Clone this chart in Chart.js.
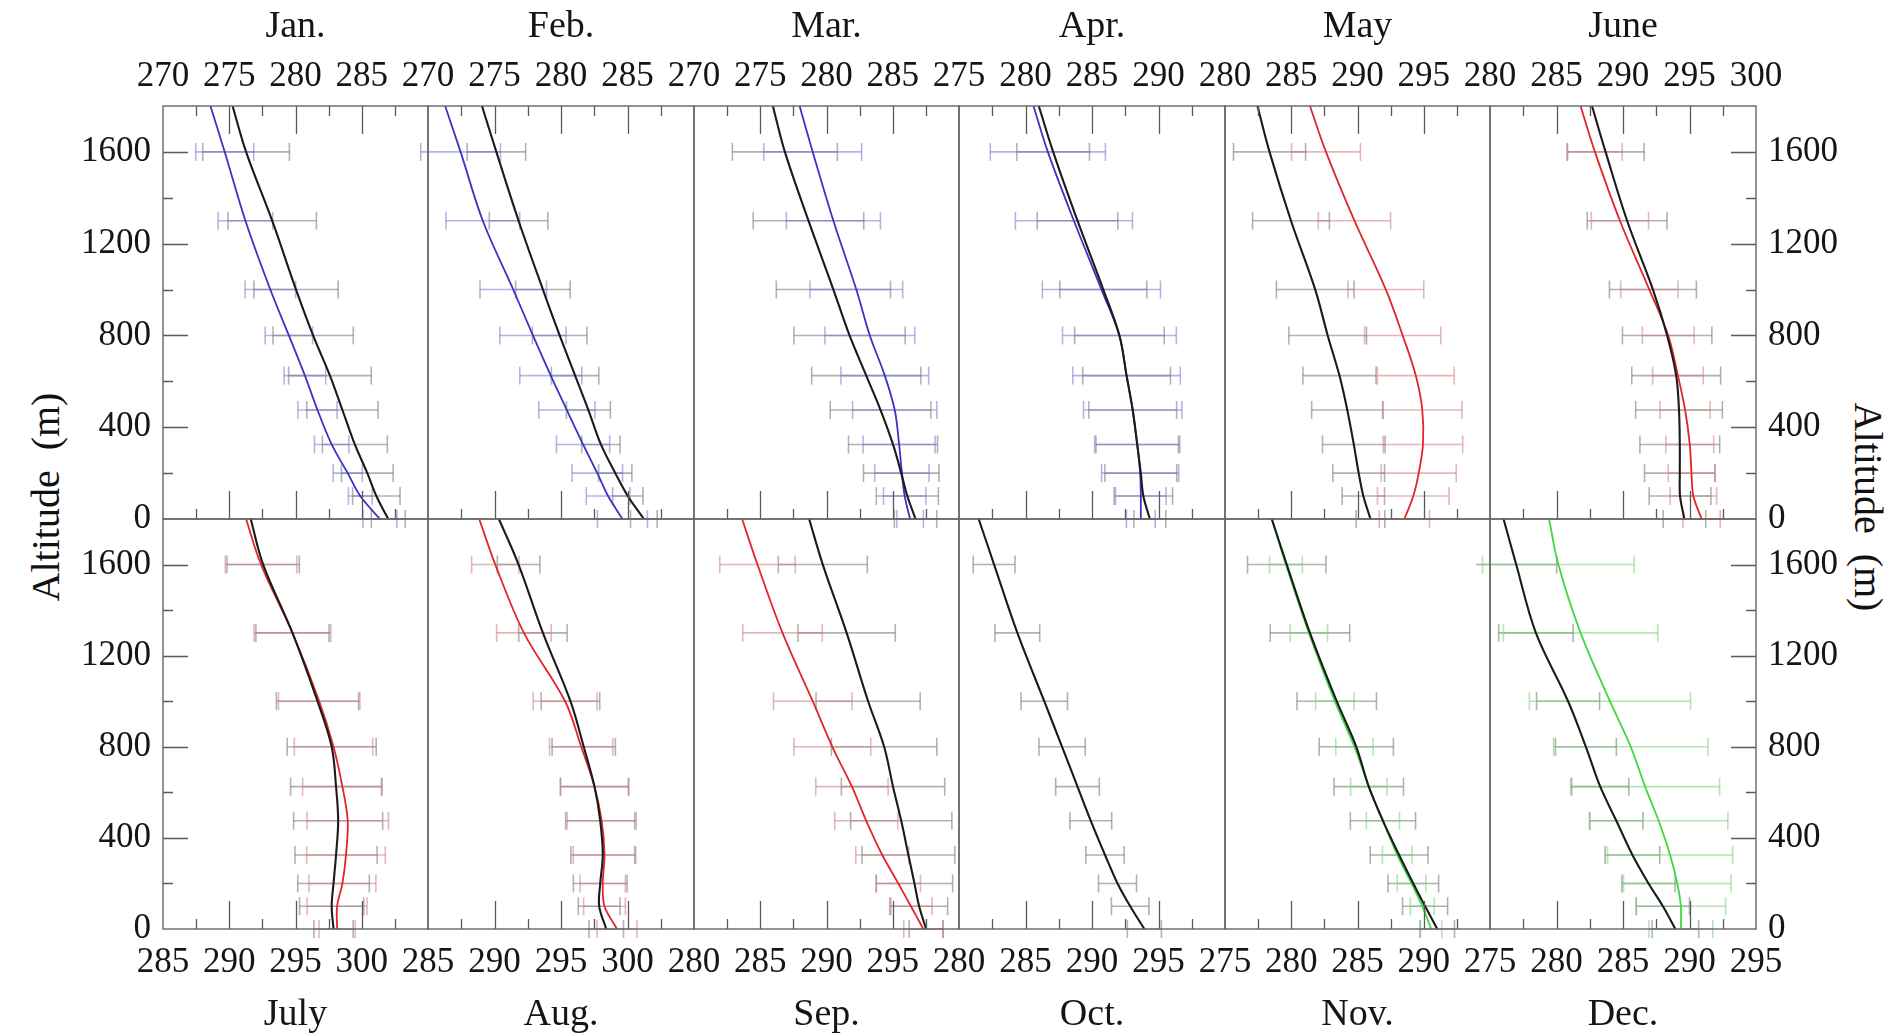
<!DOCTYPE html>
<html>
<head>
<meta charset="utf-8">
<script src="https://cdn.jsdelivr.net/npm/chart.js@4.4.0/dist/chart.umd.min.js"></script>
<style>
  body { margin: 0; background: #fff; width: 1892px; height: 1034px; overflow: hidden; position: relative; }
  canvas { position: absolute; }
  .ylab { position: absolute; font-family: 'Liberation Serif', serif; font-size: 40px; color: #111; white-space: pre; }
</style>
</head>
<body>
<div class="ylab" id="ylabL">Altitude  (m)</div>
<div class="ylab" id="ylabR">Altitude  (m)</div>
<script>
// altitudes (m) of the profile points, error bars sit on the first ten
const altLevels = [0, 100, 200, 325, 475, 625, 800, 1000, 1300, 1600, 1800];
const errLevels = [0, 100, 200, 325, 475, 625, 800, 1000, 1300, 1600];

const months = ['Jan.', 'Feb.', 'Mar.', 'Apr.', 'May', 'June', 'July', 'Aug.', 'Sep.', 'Oct.', 'Nov.', 'Dec.'];
const xMins = [270, 270, 270, 275, 280, 280, 285, 285, 280, 280, 275, 275];
const xMaxs = [290, 290, 290, 295, 300, 300, 305, 305, 300, 300, 295, 295];

// temperature (K), black profile
const janObs = [287.0, 286.1, 285.42, 284.48, 283.54, 282.6, 281.33, 280.04, 278.24, 276.27, 275.25];
const febObs = [286.23, 285.02, 284.08, 283.0, 282.06, 281.06, 279.9, 278.64, 276.81, 275.14, 274.06];
const marObs = [286.72, 286.1, 285.64, 285.02, 284.08, 283.0, 281.74, 280.52, 278.64, 276.86, 275.95];
const aprObs = [289.35, 288.86, 288.67, 288.4, 288.06, 287.6, 287.06, 285.85, 283.91, 282.08, 281.0];
const mayObs = [290.98, 290.44, 290.09, 289.72, 289.23, 288.64, 287.75, 286.81, 284.98, 283.36, 282.45];
const junObs = [294.62, 294.29, 294.27, 294.27, 294.21, 294.0, 293.32, 292.25, 290.31, 288.69, 287.67];
const julObs = [297.87, 297.73, 297.87, 298.06, 298.22, 298.06, 297.73, 296.66, 294.77, 292.56, 291.62];
const augObs = [298.4, 297.87, 297.95, 298.14, 297.95, 297.52, 296.71, 295.71, 293.64, 291.81, 290.33];
const sepObs = [297.52, 296.99, 296.64, 296.18, 295.64, 295.02, 294.35, 293.14, 291.52, 289.72, 288.69];
const octObs = [293.94, 292.87, 291.92, 290.98, 289.91, 288.91, 287.75, 286.41, 284.39, 282.64, 281.48];
const novObs = [291.02, 290.1, 289.21, 288.14, 286.92, 285.85, 284.91, 283.43, 281.41, 279.66, 278.53];
const decObs = [288.94, 288.0, 286.92, 285.71, 284.5, 283.29, 282.21, 280.87, 278.45, 276.97, 276.02];

// temperature (K), coloured profile (none in Oct.)
const janMod = [286.37, 284.89, 283.94, 282.73, 281.66, 280.71, 279.5, 278.1, 276.22, 274.66, 273.58];
const febMod = [284.62, 283.54, 282.73, 281.66, 280.44, 279.23, 277.89, 276.41, 274.12, 272.45, 271.29];
const marMod = [286.31, 285.9, 285.69, 285.48, 285.15, 284.4, 283.27, 282.25, 280.52, 278.96, 277.97];
const aprMod = [288.67, 288.67, 288.62, 288.4, 288.06, 287.6, 287.06, 285.71, 283.64, 281.68, 280.6];
const mayMod = [293.54, 294.21, 294.62, 294.94, 294.89, 294.4, 293.41, 292.14, 289.77, 287.62, 286.41];
const junMod = [295.91, 295.29, 295.15, 295.02, 294.67, 294.13, 293.4, 291.98, 289.77, 287.89, 286.81];
const julMod = [298.14, 298.14, 298.54, 298.81, 298.94, 298.54, 297.87, 296.79, 294.77, 292.4, 291.27];
const augMod = [299.21, 298.27, 298.14, 298.27, 298.06, 297.52, 296.52, 295.31, 292.21, 290.06, 288.85];
const sepMod = [297.31, 296.37, 295.42, 294.21, 293.0, 291.92, 290.44, 288.96, 286.68, 284.79, 283.63];
const novMod = [290.56, 289.89, 289.08, 288.0, 286.92, 285.85, 284.77, 283.29, 281.33, 279.6, 278.53];
const decMod = [289.35, 289.35, 289.08, 288.54, 287.68, 286.66, 285.58, 284.02, 281.81, 280.14, 279.44];

// standard deviations (K) at errLevels
const janObsSd = [1.28, 1.79, 1.95, 2.45, 2.69, 3.12, 3.03, 3.18, 3.34, 3.27];
const febObsSd = [1.0, 1.14, 1.25, 1.44, 1.65, 1.78, 2.05, 2.05, 2.2, 2.2];
const marObsSd = [1.6, 2.34, 2.85, 3.36, 3.8, 4.12, 4.2, 4.31, 4.17, 3.96];
const aprObsSd = [1.2, 2.2, 2.7, 3.1, 3.3, 3.3, 3.37, 3.27, 3.03, 2.73];
const mayObsSd = [1.08, 1.6, 1.95, 2.36, 2.69, 2.76, 2.93, 2.93, 2.9, 2.72];
const junObsSd = [1.6, 2.32, 2.65, 3.0, 3.26, 3.34, 3.36, 3.27, 3.0, 2.9];
const julObsSd = [1.48, 2.42, 2.7, 3.1, 3.36, 3.43, 3.36, 3.1, 2.76, 2.73];
const augObsSd = [1.3, 1.57, 2.02, 2.4, 2.6, 2.56, 2.38, 2.2, 1.82, 1.6];
const sepObsSd = [1.28, 2.15, 2.88, 3.5, 3.82, 3.9, 3.98, 3.93, 3.67, 3.36];
const octObsSd = [1.28, 1.41, 1.43, 1.44, 1.57, 1.64, 1.74, 1.75, 1.68, 1.57];
const novObsSd = [1.3, 1.7, 1.91, 2.18, 2.46, 2.62, 2.8, 3.0, 3.0, 2.96];
const decObsSd = [1.75, 2.0, 2.0, 2.05, 2.0, 2.15, 2.29, 2.37, 2.8, 3.04];

const janModSd = [1.28, 0.9, 1.1, 1.3, 1.48, 1.57, 1.79, 1.91, 2.06, 2.19];
const febModSd = [1.88, 1.64, 1.9, 2.0, 2.11, 2.33, 2.49, 2.5, 2.77, 3.0];
const marModSd = [1.0, 1.6, 2.05, 2.72, 3.18, 3.31, 3.39, 3.5, 3.55, 3.69];
const aprModSd = [1.08, 1.9, 2.9, 3.2, 3.7, 4.04, 4.28, 4.44, 4.4, 4.33];
const mayModSd = [1.9, 2.7, 2.83, 3.0, 2.99, 2.9, 2.88, 2.86, 2.73, 2.6];
const junModSd = [1.4, 1.75, 1.75, 1.8, 1.88, 1.9, 1.95, 2.15, 2.15, 2.05];
const julModSd = [1.37, 2.26, 2.53, 2.97, 3.07, 3.0, 2.96, 3.07, 2.9, 2.7];
const augModSd = [1.5, 1.57, 1.7, 2.35, 2.6, 2.56, 2.38, 2.4, 2.05, 1.78];
const sepModSd = [1.48, 1.6, 1.67, 2.0, 2.38, 2.73, 2.9, 2.96, 3.0, 2.85];
const novModSd = [0.8, 0.9, 1.08, 1.12, 1.25, 1.37, 1.41, 1.45, 1.41, 1.24];
const decModSd = [2.4, 3.36, 4.04, 4.7, 5.2, 5.6, 5.8, 6.06, 5.8, 5.7];

const obsList = [janObs, febObs, marObs, aprObs, mayObs, junObs, julObs, augObs, sepObs, octObs, novObs, decObs];
const modList = [janMod, febMod, marMod, aprMod, mayMod, junMod, julMod, augMod, sepMod, null, novMod, decMod];
const obsSdList = [janObsSd, febObsSd, marObsSd, aprObsSd, mayObsSd, junObsSd, julObsSd, augObsSd, sepObsSd, octObsSd, novObsSd, decObsSd];
const modSdList = [janModSd, febModSd, marModSd, aprModSd, mayModSd, junModSd, julModSd, augModSd, sepModSd, null, novModSd, decModSd];

// ---- layout / style ----
const FONT = "'Liberation Serif', 'DejaVu Serif', serif";
const colLeft = [163, 428, 694, 959, 1225, 1490, 1756];
const rowTop = [106, 519];
const rowBottom = [519, 929];
const PAGE_W = 1892, PAGE_H = 1034;
const EXTRA = 60; // spare canvas room beyond the inner edge of each row

const modStyle = {
  blue: { line: '#3b33c6', bar: 'rgba(120,120,205,0.55)' },
  red: { line: '#e1262b', bar: 'rgba(205,125,125,0.55)' },
  green: { line: '#3fd83f', bar: 'rgba(120,205,120,0.55)' }
};
const modColor = ['blue', 'blue', 'blue', 'blue', 'red', 'red', 'red', 'red', 'red', null, 'green', 'green'];

function profile(vals) {
  return altLevels.map((a, i) => ({ x: vals[i], y: a }));
}

function errBars(vals, sd) {
  const out = [];
  errLevels.forEach((a, i) => {
    out.push({ x: vals[i] - sd[i], y: a }, { x: vals[i] + sd[i], y: a }, { x: null, y: null });
  });
  return out;
}

function barSet(data, color) {
  return {
    data: data, borderColor: color, borderWidth: 1.6, showLine: true, spanGaps: false,
    pointStyle: 'line', rotation: 90, pointRadius: 9, pointBorderWidth: 1.6,
    pointBorderColor: color, pointBackgroundColor: color, clip: false, tension: 0
  };
}

// inward ticks + panel frame
const frameTicks = {
  id: 'frameTicks',
  afterDraw(chart, args, opts) {
    const { ctx, chartArea: a } = chart;
    const x = chart.scales.x, y = chart.scales.y;
    ctx.save();
    ctx.strokeStyle = '#5a5a5a';
    ctx.lineWidth = 1.3;
    ctx.beginPath();
    x.ticks.forEach(t => {
      if (t.value <= x.min || t.value >= x.max) return;
      const px = Math.round(x.getPixelForValue(t.value)) + 0.5;
      const len = t.value % 5 === 0 ? 28 : 10;
      if (opts.topTicks) { ctx.moveTo(px, a.top); ctx.lineTo(px, a.top + len); }
      ctx.moveTo(px, a.bottom); ctx.lineTo(px, a.bottom - len);
    });
    if (opts.side) {
      y.ticks.forEach(t => {
        if (t.value <= y.min || t.value >= y.max) return;
        const py = Math.round(y.getPixelForValue(t.value)) + 0.5;
        const len = t.value % 400 === 0 ? 25 : 10;
        if (opts.side === 'left') { ctx.moveTo(a.left, py); ctx.lineTo(a.left + len, py); }
        else { ctx.moveTo(a.right, py); ctx.lineTo(a.right - len, py); }
      });
    }
    ctx.stroke();
    ctx.strokeStyle = '#666';
    ctx.lineWidth = 1.4;
    ctx.strokeRect(a.left, a.top, a.right - a.left, a.bottom - a.top);
    ctx.restore();
  }
};

for (let m = 0; m < 12; m++) {
  const r = m < 6 ? 0 : 1;
  const c = m % 6;
  const pl = colLeft[c], pr = colLeft[c + 1];
  const pt = rowTop[r], pb = rowBottom[r];

  const cx = Math.max(0, pl - 170);
  const cw = Math.min(PAGE_W, pr + 140) - cx;
  const cy = r === 0 ? 0 : pt - EXTRA;
  const ch = r === 0 ? pb + EXTRA : PAGE_H - cy;

  const canvas = document.createElement('canvas');
  canvas.width = cw; canvas.height = ch;
  canvas.style.left = cx + 'px'; canvas.style.top = cy + 'px';
  canvas.style.width = cw + 'px'; canvas.style.height = ch + 'px';
  document.body.appendChild(canvas);

  const side = c === 0 ? 'left' : (c === 5 ? 'right' : null);
  const padL = pl - cx, padR = cx + cw - pr;
  const xAxisH = r === 0 ? pt - cy : cy + ch - pb;

  const datasets = [];
  datasets.push({ data: profile(obsList[m]), borderColor: '#1b1b1b', borderWidth: 2.1, pointRadius: 0, tension: 0.35, clip: false });
  if (modList[m]) {
    const st = modStyle[modColor[m]];
    datasets.push({ data: profile(modList[m]), borderColor: st.line, borderWidth: 1.8, pointRadius: 0, tension: 0.35, clip: false });
    datasets.push(barSet(errBars(modList[m], modSdList[m]), st.bar));
  }
  datasets.push(barSet(errBars(obsList[m], obsSdList[m]), 'rgba(115,115,115,0.55)'));

  const lastCol = c === 5;
  new Chart(canvas, {
    type: 'line',
    data: { datasets: datasets },
    options: {
      responsive: false,
      animation: false,
      devicePixelRatio: 1,
      events: [],
      layout: {
        autoPadding: false,
        padding: {
          left: side === 'left' ? 0 : padL,
          right: side === 'right' ? 0 : padR,
          top: r === 0 ? 0 : pt - cy,
          bottom: r === 0 ? ch - pb : 0
        }
      },
      plugins: {
        legend: { display: false },
        tooltip: { enabled: false },
        frameTicks: { topTicks: r === 0, side: side }
      },
      scales: {
        x: {
          type: 'linear',
          position: r === 0 ? 'top' : 'bottom',
          min: xMins[m], max: xMaxs[m],
          afterFit: s => { s.height = xAxisH; },
          grid: { display: false, drawTicks: false },
          border: { display: false },
          ticks: {
            stepSize: 2.5, autoSkip: false, maxRotation: 0, padding: r === 0 ? 8 : 13,
            color: '#151515', font: { family: FONT, size: 35 },
            callback: v => (v % 5 === 0 && (v < xMaxs[m] || lastCol)) ? String(v) : ''
          },
          title: {
            display: true, text: months[m], color: '#151515',
            font: { family: FONT, size: 38, lineHeight: 1.0 },
            padding: r === 0 ? { top: 8, bottom: 0 } : { top: 0, bottom: 0 }
          }
        },
        y: {
          type: 'linear',
          display: side !== null,
          position: side === 'right' ? 'right' : 'left',
          min: 0, max: 1800,
          afterFit: s => { if (side) s.width = side === 'right' ? padR : padL; },
          grid: { display: false, drawTicks: false },
          border: { display: false },
          ticks: {
            stepSize: 200, autoSkip: false, padding: 12,
            color: '#151515', font: { family: FONT, size: 35 },
            callback: v => v % 400 === 0 ? String(v) : ''
          }
        }
      }
    },
    plugins: [frameTicks]
  });
}

const yl = document.getElementById('ylabL');
yl.style.left = '45px'; yl.style.top = '497px';
yl.style.transform = 'translate(-50%, -50%) rotate(-90deg)';
const yr = document.getElementById('ylabR');
yr.style.left = '1868px'; yr.style.top = '507px';
yr.style.transform = 'translate(-50%, -50%) rotate(90deg)';
</script>
</body>
</html>
